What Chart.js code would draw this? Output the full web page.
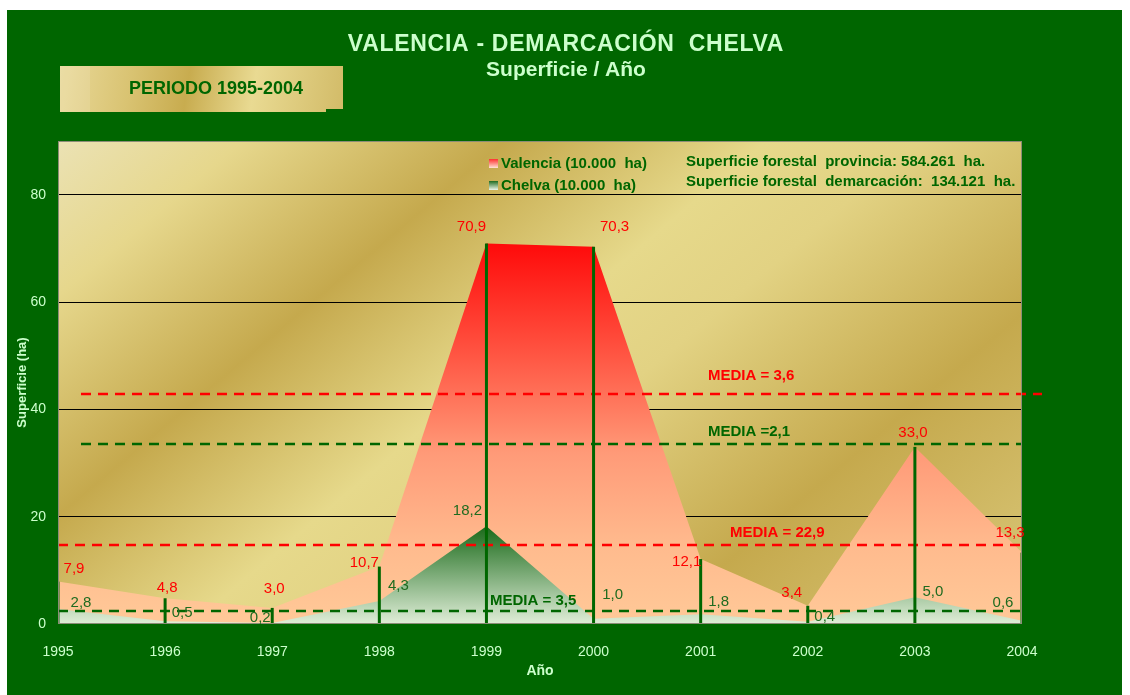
<!DOCTYPE html>
<html>
<head>
<meta charset="utf-8">
<title>Valencia - Demarcación Chelva</title>
<script src="https://cdn.jsdelivr.net/npm/chart.js@4.4.0/dist/chart.umd.min.js"></script>
<style>
	html, body { margin: 0; padding: 0; background: #ffffff; }
	canvas { display: block; }
</style>
</head>
<body>
<canvas id="chart" width="1130" height="695"></canvas>
<script>
const years = ["1995", "1996", "1997", "1998", "1999", "2000", "2001", "2002", "2003", "2004"];
const valencia = [7.9, 4.8, 3.0, 10.7, 70.9, 70.3, 12.1, 3.4, 33.0, 13.3];
const chelva = [2.8, 0.5, 0.2, 4.3, 18.2, 1.0, 1.8, 0.4, 5.0, 0.6];
const yTicks = [0, 20, 40, 60, 80];
const mediaValues = [42.9, 33.5, 14.7, 2.4];
const mediaLabels = ["MEDIA = 3,6", "MEDIA =2,1", "MEDIA = 22,9", "MEDIA = 3,5"];
const infoLines = ["Superficie forestal  provincia: 584.261  ha.", "Superficie forestal  demarcación:  134.121  ha."];

const FONT = "'Liberation Sans', Arial, sans-serif";
const DARK_GREEN = "#006600";
const LIGHT_TEXT = "#ccffcc";

// label offsets (px) relative to each point, taken from the original layout
const valenciaOffsets = [[16, -13], [2, -10], [2, -19], [-15, -4], [-15, -17], [21, -20], [-14, 3], [-16, -13], [-2, -14], [-12, -20]];
const chelvaOffsets = [[23, -6], [17, -8], [-12, -5], [19, -15], [-19, -15], [19, -24], [18, -12], [17, -5], [18, -5], [-19, -18]];

// style of the four "MEDIA" lines: colour, x span, label position
const mediaStyle = [
	{ color: "#ff0000", from: 81, to: 1042, lx: 708, ly: 376 },
	{ color: DARK_GREEN, from: 81, to: 1022, lx: 708, ly: 432 },
	{ color: "#ff0000", from: 58, to: 1022, lx: 730, ly: 533 },
	{ color: DARK_GREEN, from: 58, to: 1022, lx: 490, ly: 601 }
];

function fmt(v) {
	return v.toFixed(1).replace(".", ",");
}

function areaGradient(chart, top, stops) {
	const y = chart.scales.y;
	if (!y || !chart.chartArea) return stops[stops.length - 1][1];
	const g = chart.ctx.createLinearGradient(0, y.getPixelForValue(top), 0, y.getPixelForValue(0));
	stops.forEach((s) => g.addColorStop(s[0], s[1]));
	return g;
}

const backdrop = {
	id: "backdrop",
	beforeDraw(chart) {
		const ctx = chart.ctx;
		const a = chart.chartArea;
		ctx.save();
		ctx.fillStyle = "#ffffff";
		ctx.fillRect(0, 0, chart.width, chart.height);
		ctx.fillStyle = DARK_GREEN;
		ctx.fillRect(7, 10, 1115, 685);

		// gold plot background
		const len = 990;
		const g = ctx.createLinearGradient(a.left, a.top, a.left + 0.643 * len, a.top + 0.766 * len);
		g.addColorStop(0, "#ebe2b4");
		g.addColorStop(0.12, "#e6d78c");
		g.addColorStop(0.29, "#c5a94d");
		g.addColorStop(0.46, "#e6d98b");
		g.addColorStop(0.56, "#e2d283");
		g.addColorStop(0.76, "#c5a94d");
		g.addColorStop(1, "#dac87a");
		ctx.fillStyle = g;
		ctx.fillRect(a.left, a.top, a.right - a.left, a.bottom - a.top);

		// PERIODO box
		const pg = ctx.createLinearGradient(60, 66, 343, 112);
		pg.addColorStop(0, "#e9d999");
		pg.addColorStop(0.25, "#d9c372");
		pg.addColorStop(0.45, "#c8ac4f");
		pg.addColorStop(0.68, "#e9da92");
		pg.addColorStop(1, "#d2bb68");
		ctx.fillStyle = pg;
		ctx.fillRect(60, 66, 283, 46);
		ctx.fillStyle = DARK_GREEN;
		ctx.fillRect(326, 109, 17, 3);
		ctx.fillStyle = "rgba(255,255,255,0.12)";
		ctx.fillRect(60, 66, 30, 46);
		ctx.fillStyle = DARK_GREEN;
		ctx.font = "bold 18px " + FONT;
		ctx.textAlign = "center";
		ctx.textBaseline = "middle";
		ctx.fillText("PERIODO 1995-2004", 216, 89);

		// titles
		ctx.fillStyle = LIGHT_TEXT;
		ctx.textBaseline = "alphabetic";
		ctx.font = "bold 23px " + FONT;
		ctx.letterSpacing = "0.7px";
		ctx.fillText("VALENCIA - DEMARCACIÓN  CHELVA", 566, 51);
		ctx.letterSpacing = "0px";
		ctx.font = "bold 21px " + FONT;
		ctx.fillText("Superficie / Año", 566, 76);
		ctx.restore();
	},
	afterDatasetsDraw(chart) {
		const ctx = chart.ctx;
		const a = chart.chartArea;
		const y = chart.scales.y;
		const vMeta = chart.getDatasetMeta(0);
		const cMeta = chart.getDatasetMeta(1);
		ctx.save();

		// dashed MEDIA lines
		ctx.lineWidth = 2.5;
		ctx.setLineDash([10, 7]);
		mediaValues.forEach((v, i) => {
			const s = mediaStyle[i];
			const py = Math.round(y.getPixelForValue(v));
			ctx.strokeStyle = s.color;
			ctx.beginPath();
			ctx.moveTo(s.from, py);
			ctx.lineTo(s.to, py);
			ctx.stroke();
		});
		ctx.setLineDash([]);

		// drop lines
		ctx.strokeStyle = DARK_GREEN;
		ctx.lineWidth = 3;
		vMeta.data.forEach((p) => {
			ctx.beginPath();
			ctx.moveTo(p.x, p.y);
			ctx.lineTo(p.x, a.bottom);
			ctx.stroke();
		});

		// plot border
		ctx.strokeStyle = "#8c8c78";
		ctx.lineWidth = 1;
		ctx.strokeRect(a.left + 0.5, a.top + 0.5, a.right - a.left - 1, a.bottom - a.top - 1);

		// value labels
		ctx.font = "15px " + FONT;
		ctx.textAlign = "center";
		ctx.textBaseline = "middle";
		ctx.fillStyle = "#ff0000";
		vMeta.data.forEach((p, i) => {
			ctx.fillText(fmt(valencia[i]), p.x + valenciaOffsets[i][0], p.y + valenciaOffsets[i][1]);
		});
		ctx.fillStyle = "#1f6b1f";
		cMeta.data.forEach((p, i) => {
			ctx.fillText(fmt(chelva[i]), p.x + chelvaOffsets[i][0], p.y + chelvaOffsets[i][1]);
		});

		// MEDIA labels
		ctx.font = "bold 15px " + FONT;
		ctx.textAlign = "left";
		mediaLabels.forEach((t, i) => {
			ctx.fillStyle = mediaStyle[i].color;
			ctx.fillText(t, mediaStyle[i].lx, mediaStyle[i].ly);
		});

		// legend
		let lg = ctx.createLinearGradient(0, 159, 0, 168);
		lg.addColorStop(0, "#ff3030");
		lg.addColorStop(1, "#ffe6d6");
		ctx.fillStyle = lg;
		ctx.fillRect(489, 159, 9, 9);
		lg = ctx.createLinearGradient(0, 181, 0, 190);
		lg.addColorStop(0, "#1f6b1f");
		lg.addColorStop(1, "#eef6ea");
		ctx.fillStyle = lg;
		ctx.fillRect(489, 181, 9, 9);
		ctx.fillStyle = DARK_GREEN;
		ctx.font = "bold 15px " + FONT;
		ctx.fillText("Valencia (10.000  ha)", 501, 164);
		ctx.fillText("Chelva (10.000  ha)", 501, 186);
		ctx.fillText(infoLines[0], 686, 162);
		ctx.fillText(infoLines[1], 686, 182);
		ctx.restore();
	}
};

new Chart(document.getElementById("chart"), {
	type: "line",
	data: {
		labels: years,
		datasets: [
			{
				label: "Valencia (10.000 ha)",
				data: valencia,
				order: 2,
				fill: "origin",
				borderWidth: 0,
				pointRadius: 0,
				tension: 0,
				borderColor: "rgba(0,0,0,0)",
				backgroundColor: (c) => areaGradient(c.chart, Math.max(...valencia),
					[[0, "#ff0a0a"], [0.25, "#ff4a3a"], [0.55, "#ff9a78"], [0.8, "#ffbb8e"], [1, "#ffc998"]])
			},
			{
				label: "Chelva (10.000 ha)",
				data: chelva,
				order: 1,
				fill: "origin",
				borderWidth: 0,
				pointRadius: 0,
				tension: 0,
				borderColor: "rgba(0,0,0,0)",
				backgroundColor: (c) => areaGradient(c.chart, Math.max(...chelva),
					[[0, "#1a6a1a"], [1, "#e0eed8"]])
			}
		]
	},
	options: {
		responsive: false,
		animation: false,
		devicePixelRatio: 1,
		layout: { padding: { top: 141, right: 108, bottom: 0, left: 0 } },
		plugins: {
			legend: { display: false },
			title: { display: false },
			tooltip: { enabled: false }
		},
		scales: {
			x: {
				offset: false,
				afterFit: (s) => { s.height = 71; },
				grid: { display: false },
				border: { display: false },
				ticks: {
					color: LIGHT_TEXT,
					font: { family: FONT, size: 14 },
					padding: 12,
					maxRotation: 0,
					autoSkip: false
				},
				title: {
					display: true,
					text: "Año",
					color: LIGHT_TEXT,
					font: { family: FONT, size: 14, weight: "bold" },
					padding: { top: 0, bottom: 15 }
				}
			},
			y: {
				min: 0,
				max: 90,
				afterFit: (s) => { s.width = 58; },
				afterBuildTicks: (s) => { s.ticks = yTicks.map((v) => ({ value: v })); },
				border: { display: false },
				grid: {
					color: (c) => (c.tick && c.tick.value === 0 ? "rgba(0,0,0,0)" : "#000000"),
					lineWidth: 1,
					drawTicks: false
				},
				ticks: {
					color: LIGHT_TEXT,
					font: { family: FONT, size: 14 },
					padding: 12
				},
				title: {
					display: true,
					text: "Superficie (ha)",
					color: LIGHT_TEXT,
					font: { family: FONT, size: 13, weight: "bold" },
					padding: { top: 15, bottom: 0 }
				}
			}
		}
	},
	plugins: [backdrop]
});
</script>
</body>
</html>
